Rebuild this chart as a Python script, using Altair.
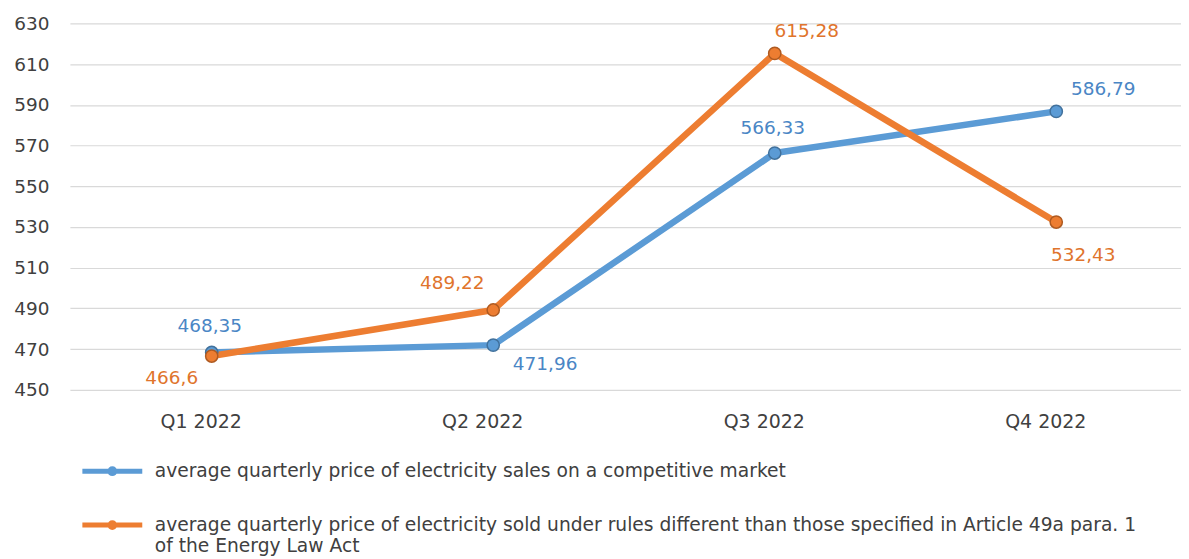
import altair as alt
import pandas as pd

quarters = ["Q1 2022", "Q2 2022", "Q3 2022", "Q4 2022"]
series_names = [
    "average quarterly price of electricity sales on a competitive market",
    "average quarterly price of electricity sold under rules different than those specified in Article 49a para. 1 of the Energy Law Act",
]
competitive = [468.35, 471.96, 566.33, 586.79]
other_rules = [466.6, 489.22, 615.28, 532.43]
labels_competitive = ["468,35", "471,96", "566,33", "586,79"]
labels_other = ["466,6", "489,22", "615,28", "532,43"]
y_ticks = [450, 470, 490, 510, 530, 550, 570, 590, 610, 630]

colors = ["#5B9BD5", "#ED7D31"]
edge_colors = ["#41719C", "#AE5A21"]
label_colors = ["#4A86C5", "#E0742C"]

rows = []
for i, q in enumerate(quarters):
    rows.append({"quarter": q, "series": series_names[0], "value": competitive[i],
                 "label": labels_competitive[i], "idx": i, "s": 0})
    rows.append({"quarter": q, "series": series_names[1], "value": other_rules[i],
                 "label": labels_other[i], "idx": i, "s": 1})
df = pd.DataFrame(rows)

# label placement offsets (style), keyed by (series index, quarter index)
offsets = {
    (0, 0): (-2, -27), (1, 0): (-40, 22),
    (0, 1): (52, 19), (1, 1): (-41, -27),
    (0, 2): (-2, -25), (1, 2): (32, -22),
    (0, 3): (47, -22), (1, 3): (27, 33),
}

FONT = "DejaVu Sans"

x_enc = alt.X("quarter:N", sort=quarters, title=None,
              scale=alt.Scale(type="point", padding=0.4734, align=0.532),
              axis=alt.Axis(labelAngle=0, domain=False, ticks=False, grid=False,
                            labelFontSize=19, labelColor="#404040", labelFont=FONT,
                            labelPadding=23, labelOffset=-11))
y_enc = alt.Y("value:Q", title=None,
              scale=alt.Scale(domain=[450, 630], nice=False, zero=False),
              axis=alt.Axis(values=y_ticks, domain=False, ticks=False, gridColor="#D9D9D9",
                            gridWidth=1.2, labelFontSize=18.5, labelColor="#404040",
                            labelFont=FONT, labelPadding=21))

line = alt.Chart(df).mark_line(strokeWidth=6.5, strokeCap="round", strokeJoin="round").encode(
    x=x_enc, y=y_enc,
    color=alt.Color("series:N", sort=series_names,
                    scale=alt.Scale(domain=series_names, range=colors),
                    legend=alt.Legend(
                        title=None, orient="none", legendX=10, legendY=407,
                        direction="vertical",
                        symbolType="M-1,0.3H1M-0.08,0.3A0.08,0.08 0 1,0 0.08,0.3A0.08,0.08 0 1,0 -0.08,0.3",
                        symbolSize=3600, symbolStrokeWidth=5,
                        labelFontSize=18.7, labelColor="#404040", labelFont=FONT,
                        labelLimit=2000, rowPadding=-3, labelOffset=10,
                        labelBaseline="top",
                        labelExpr=("datum.label == '" + series_names[1] + "' ? "
                                   "['average quarterly price of electricity sold under rules different than those specified in Article 49a para. 1', "
                                   "'of the Energy Law Act'] : datum.label"),
                    )),
    detail="series:N",
)

points = alt.Chart(df).mark_point(filled=True, size=150, strokeWidth=1.5, opacity=1).encode(
    x=x_enc, y=y_enc,
    fill=alt.Fill("series:N", scale=alt.Scale(domain=series_names, range=colors), legend=None),
    stroke=alt.Stroke("series:N", scale=alt.Scale(domain=series_names, range=edge_colors), legend=None),
)

layers = [line, points]
for (s, i), (dx, dy) in offsets.items():
    t = alt.Chart(df).transform_filter(
        (alt.datum.s == s) & (alt.datum.idx == i)
    ).mark_text(dx=dx, dy=dy, fontSize=18.5, font=FONT, color=label_colors[s],
                align="center", baseline="middle").encode(
        x=x_enc, y=y_enc, text="label:N")
    layers.append(t)

chart = alt.layer(*layers).resolve_scale(fill="independent", stroke="independent").properties(
    width=1113, height=367,
    autosize=alt.AutoSizeParams(type="none"),
    padding={"left": 62, "top": 15, "right": 0, "bottom": 166},
).configure_view(stroke=None).configure_legend(symbolFillColor="transparent")

chart.save("out.html", embed_options={"renderer": "svg", "actions": False})
